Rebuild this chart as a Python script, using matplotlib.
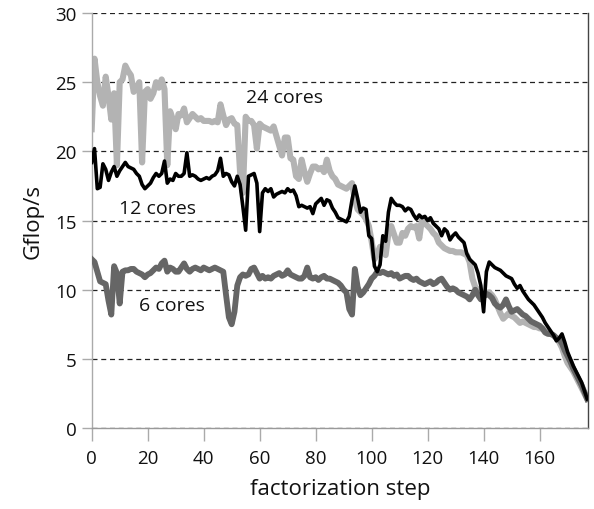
import numpy as np
import matplotlib
matplotlib.use('Agg')
import matplotlib.pyplot as plt

# Performance per factorization step ----------------------

steps = np.arange(178)

gflops_24 = [
    21.6, 26.7, 25.0, 24.0, 23.3, 25.4, 24.0, 22.3, 24.2, 19.0,
    25.0, 25.2, 26.2, 25.8, 25.5, 24.3, 24.6, 25.0, 19.2, 24.3,
    24.5, 23.8, 24.2, 25.0, 24.6, 25.2, 24.5, 19.0, 22.9, 22.3,
    21.6, 22.7, 22.6, 23.1, 22.1, 22.4, 22.7, 22.5, 22.3, 22.4,
    22.2, 22.2, 22.2, 22.1, 22.2, 22.1, 23.4, 22.6, 21.9, 22.3,
    22.4, 22.0, 21.9, 18.5, 17.0, 22.5, 22.2, 22.2, 21.9, 20.2,
    22.0, 21.8, 21.7, 21.6, 21.5, 21.8, 21.1, 20.4, 19.7, 21.0,
    21.0, 19.5, 19.4, 18.2, 18.0, 19.4, 18.5, 17.8, 18.4, 18.9,
    18.9, 18.7, 18.8, 18.5, 19.4, 18.6, 18.2, 18.0, 17.6, 17.5,
    17.4, 17.3, 17.5, 17.7, 16.5, 15.8, 15.6, 15.4, 15.1, 14.6,
    13.5, 12.2, 12.6, 13.1, 12.8, 12.5, 14.1, 14.6, 14.0, 13.4,
    13.4, 14.1, 13.9, 14.4, 14.6, 14.5, 14.6, 13.7, 15.1, 14.8,
    14.6, 14.4, 14.1, 13.9, 13.4, 13.2, 13.0, 12.9, 12.8, 12.8,
    12.7, 12.7, 12.7, 12.6, 12.5, 12.0, 10.8, 10.2, 10.0, 9.6,
    9.5, 9.7, 9.8, 9.6, 9.3, 8.8, 8.3, 7.9, 8.1, 8.3,
    8.1, 8.0, 7.8, 7.6, 7.7, 7.6, 7.5, 7.4, 7.3, 7.3,
    7.2, 7.2, 7.0, 6.9, 6.8, 6.7, 6.5, 6.2, 5.8, 5.2,
    4.7, 4.4, 4.1, 3.7, 3.3, 2.9, 2.5, 2.1]

gflops_12 = [
    19.2, 20.2, 17.3, 17.4, 19.1, 18.7, 17.9, 18.5, 18.9, 18.2,
    18.6, 18.9, 19.2, 18.9, 18.8, 18.7, 18.4, 18.2, 17.6, 17.3,
    17.5, 17.7, 18.1, 18.4, 18.2, 18.4, 19.3, 17.7, 18.0, 17.9,
    18.4, 18.2, 18.2, 18.4, 19.9, 18.2, 18.3, 18.2, 18.0, 17.9,
    18.0, 18.1, 18.0, 18.2, 18.3, 18.6, 19.5, 18.2, 18.4, 18.3,
    17.8, 17.5, 18.2, 17.6, 16.0, 14.3, 18.2, 18.3, 18.4, 17.7,
    14.2, 17.0, 17.3, 17.1, 17.3, 16.7, 16.9, 17.0, 17.1, 17.0,
    17.3, 17.1, 17.2, 16.8, 16.0, 16.1, 16.0, 15.9, 16.0, 15.5,
    16.2, 16.4, 16.6, 16.1, 16.5, 16.4, 15.9, 15.6, 15.2, 15.1,
    15.0, 14.9, 15.3, 16.5, 17.5, 16.6, 15.6, 15.9, 15.8, 13.9,
    13.7, 11.7, 11.3, 11.8, 13.9, 13.5, 15.6, 16.6, 16.3, 16.1,
    16.1, 16.0, 15.7, 15.9, 15.8, 15.4, 15.1, 15.4, 15.2, 15.3,
    15.0, 15.2, 14.8, 14.6, 14.4, 13.9, 14.4, 14.2, 13.6, 13.9,
    14.1, 13.8, 13.6, 13.4, 12.6, 12.2, 12.0, 11.8, 11.2, 10.3,
    8.4, 11.3, 12.0, 11.8, 11.6, 11.5, 11.4, 11.2, 11.0, 10.9,
    10.8, 10.4, 10.1, 10.3, 9.9, 9.6, 9.3, 9.1, 8.9, 8.6,
    8.3, 8.0, 7.6, 7.3, 7.0, 6.7, 6.3, 6.5, 6.8, 6.2,
    5.5, 5.0, 4.5, 4.1, 3.7, 3.3, 2.7, 2.1]

gflops_6 = [
    12.2, 12.0, 11.3, 10.6, 10.5, 10.4, 9.2, 8.2, 11.7, 11.2,
    9.0, 11.3, 11.4, 11.4, 11.5, 11.5, 11.3, 11.2, 11.1, 10.9,
    11.1, 11.2, 11.4, 11.6, 11.5, 11.9, 12.1, 11.3, 11.6, 11.5,
    11.3, 11.3, 11.6, 11.9, 11.5, 11.3, 11.5, 11.6, 11.5, 11.4,
    11.6, 11.5, 11.4, 11.5, 11.6, 11.5, 11.4, 11.3, 9.6, 8.0,
    7.5, 8.4, 10.3, 10.9, 11.1, 11.0, 11.1, 11.5, 11.6, 11.2,
    10.8, 11.0, 10.8, 10.9, 10.8, 11.0, 11.1, 11.2, 11.0, 11.1,
    11.4, 11.1, 11.0, 10.9, 10.8, 10.8, 11.0, 11.6, 10.9, 10.8,
    10.9, 10.7, 10.9, 11.0, 10.8, 10.8, 10.7, 10.6, 10.5, 10.3,
    10.0, 9.8, 8.6, 8.2, 11.5, 10.2, 9.6, 9.8, 10.1, 10.4,
    10.8, 11.0, 11.3, 11.2, 11.3, 11.2, 11.1, 11.2, 11.0, 11.1,
    10.8, 10.9, 11.0, 11.0, 10.8, 10.7, 10.8, 10.6, 10.5, 10.4,
    10.5, 10.6, 10.4, 10.5, 10.7, 10.8, 10.5, 10.2, 10.0, 10.1,
    10.0, 9.8, 9.7, 9.6, 9.5, 9.3, 9.6, 10.0, 9.6, 9.3,
    9.5, 9.7, 9.6, 9.4, 9.0, 8.8, 8.7, 8.9, 9.3, 8.8,
    8.4, 8.5, 8.6, 8.4, 8.2, 8.1, 7.9, 7.7, 7.6, 7.5,
    7.4, 7.2, 6.9, 6.8, 6.8, 6.7, 6.5, 6.4, 6.1, 5.6,
    5.2, 4.8, 4.3, 3.9, 3.5, 3.1, 2.6, 2.1]

plt.rcParams['font.family'] = ['Open Sans', 'DejaVu Sans']

fig = plt.figure(figsize=(5.94, 5.10), dpi=100)
ax = fig.add_axes([0.1544, 0.1588, 0.836, 0.8137])

# Grid lines first, curves on top
for yv in range(0, 31, 5):
    ax.axhline(yv, color='#222222', lw=0.9, ls=(0, (4, 3)), zorder=1)

ax.plot(steps, gflops_24, color='#b3b3b3', lw=4.4, zorder=2)
ax.plot(steps, gflops_6, color='#666666', lw=4.2, zorder=3)
ax.plot(steps, gflops_12, color='black', lw=2.6, zorder=4)

ax.text(69, 23.9, '24 cores', fontsize=14, ha='center', va='center', color='#111111')
ax.text(23.4, 15.9, '12 cores', fontsize=14, ha='center', va='center', color='#111111')
ax.text(28.7, 8.9, '6 cores', fontsize=14, ha='center', va='center', color='#111111')

ax.set_xlim(0, 177.4)
ax.set_ylim(0, 30)
ax.set_xticks(range(0, 161, 20))
ax.set_yticks(range(0, 31, 5))

ax.spines['top'].set_visible(False)
ax.spines['left'].set_color('#aaaaaa')
ax.spines['bottom'].set_color('#999999')
ax.spines['right'].set_color('#444444')
for s in ax.spines.values():
    s.set_linewidth(1.0)

ax.tick_params(axis='x', direction='out', length=9, width=1, color='#aaaaaa',
               labelsize=13.5, pad=6, labelcolor='#111111')
ax.tick_params(axis='y', direction='out', length=7, width=1, color='#aaaaaa',
               labelsize=13.5, pad=4, labelcolor='#111111')

ax.set_xlabel('factorization step', fontsize=16, labelpad=8, color='#111111')
ax.set_ylabel('Gflop/s', fontsize=16, labelpad=8, color='#111111')

fig.savefig('out.png', dpi=100)
